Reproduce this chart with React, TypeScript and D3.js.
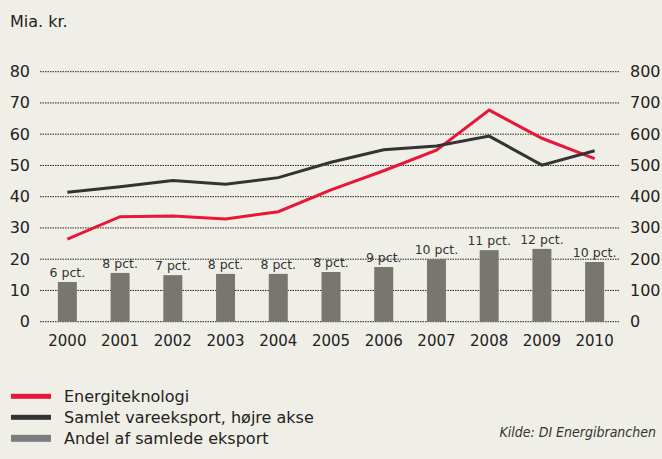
import React from "react";
import * as d3 from "d3";

const years = ["2000","2001","2002","2003","2004","2005","2006","2007","2008","2009","2010"];
const energi = [26.4, 33.6, 33.8, 32.9, 35.2, 42.2, 48.3, 54.9, 67.7, 58.7, 52.2];
const samlet = [414, 432, 452, 440, 461, 510, 550, 562, 594, 501, 547];
const andel = [12.7, 15.6, 14.9, 15.3, 15.3, 15.9, 17.5, 20.0, 22.9, 23.3, 19.1];
const andelLabels = ["6 pct.","8 pct.","7 pct.","8 pct.","8 pct.","8 pct.","9 pct.","10 pct.","11 pct.","12 pct.","10 pct."];
const leftTicks = [0,10,20,30,40,50,60,70,80];
const rightTicks = [0,100,200,300,400,500,600,700,800];
const legendItems = ["Energiteknologi","Samlet vareeksport, højre akse","Andel af samlede eksport"];

const W = 662, H = 459;
const BG = "#f0efe7";
const RED = "#e8173a";
const DARK = "#333333";
const BAR = "#78776f";
const FONT = "'DejaVu Sans', Verdana, sans-serif";

export default function App() {
  const x = d3.scaleBand<string>().domain(years).range([41, 621]).paddingInner(0.64).paddingOuter(0.32);
  const y = d3.scaleLinear().domain([0, 80]).range([321.7, 71.7]);
  const y2 = d3.scaleLinear().domain([0, 800]).range([321.7, 71.7]);
  const cx = (yr: string) => (x(yr) as number) + x.bandwidth() / 2;

  const redLine = d3.line<number>().x((_, i) => cx(years[i])).y((d) => y(d));
  const darkLine = d3.line<number>().x((_, i) => cx(years[i])).y((d) => y2(d));
  const legendColors = [RED, DARK, "#7d7d80"];
  const legendH = [5, 5, 7];

  return (
    <svg width={W} height={H} style={{ position: "absolute", left: 0, top: 0, display: "block" }} fontFamily={FONT}>
      <rect x={0} y={0} width={W} height={H} fill={BG} />
      <text x={10} y={27} fontSize={16} fill="#222">Mia. kr.</text>
      {leftTicks.map((t) => (
        <g key={"g" + t}>
          <line x1={40} x2={620} y1={y(t)} y2={y(t)} stroke="#222" strokeWidth={1} strokeDasharray="1.5,1" />
          <text x={30} y={y(t) + 5.5} textAnchor="end" fontSize={16} fill="#222">{t}</text>
        </g>
      ))}
      {rightTicks.map((t) => (
        <text key={"r" + t} x={630} y={y2(t) + 5.5} textAnchor="start" fontSize={16} fill="#222">{t}</text>
      ))}
      {andel.map((v, i) => (
        <g key={"b" + i}>
          <rect x={x(years[i])} y={y(v)} width={x.bandwidth()} height={y(0) - y(v)} fill={BAR} />
          <text x={cx(years[i])} y={y(v) - 5} textAnchor="middle" fontSize={12.5} fill="#333">{andelLabels[i]}</text>
        </g>
      ))}
      {years.map((yr) => (
        <text key={"x" + yr} x={cx(yr)} y={346} textAnchor="middle" fontSize={15} fill="#222">{yr}</text>
      ))}
      <path d={redLine(energi) || ""} fill="none" stroke={RED} strokeWidth={3} strokeLinejoin="miter" />
      <path d={darkLine(samlet) || ""} fill="none" stroke={DARK} strokeWidth={3} strokeLinejoin="miter" />
      {legendItems.map((lab, i) => (
        <g key={"l" + i}>
          <rect x={11} y={396.3 + i * 21 - legendH[i] / 2} width={40} height={legendH[i]} fill={legendColors[i]} />
          <text x={64} y={402 + i * 21} fontSize={16} fill="#222">{lab}</text>
        </g>
      ))}
      <text x={656} y={437} textAnchor="end" fontSize={14} fontStyle="italic" fill="#333"
        fontFamily="'DejaVu Sans Condensed', 'DejaVu Sans', sans-serif">Kilde: DI Energibranchen</text>
    </svg>
  );
}
